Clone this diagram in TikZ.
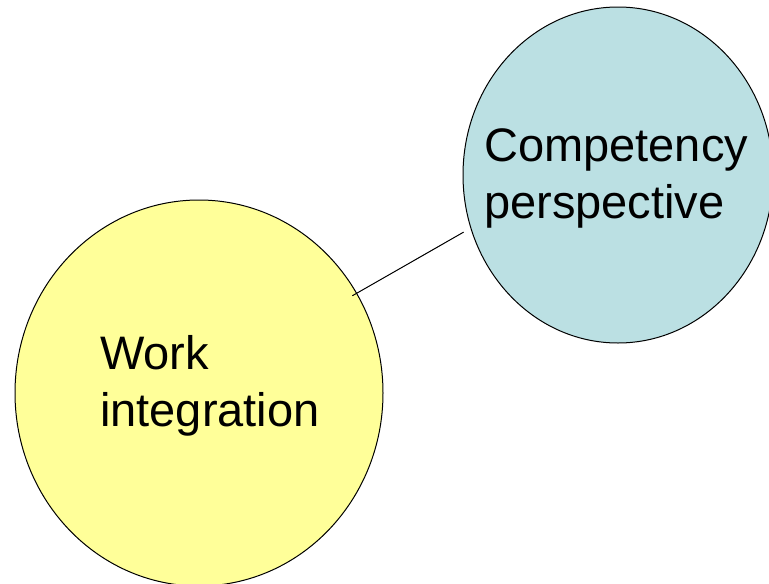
\documentclass[tikz,border=0pt]{standalone}
\usepackage{fontspec}
\setmainfont{Liberation Sans}
\usetikzlibrary{shapes.geometric}
\definecolor{workyellow}{RGB}{255,255,153}
\definecolor{compblue}{RGB}{187,224,227}
\tikzset{
  bubble/.style={ellipse,draw=black,line width=1pt,inner sep=0pt},
  bubbletext/.style={align=left,inner sep=0pt,font=\fontsize{47}{57}\selectfont}
}
\begin{document}
\begin{tikzpicture}[x=1pt,y=-1pt]
                        \useasboundingbox (0,0) rectangle (769,584);
                        \node[bubble,fill=workyellow,minimum width=368pt,minimum height=386pt] (work) at(199,393) {};
                        \node[bubble,fill=compblue,minimum width=310pt,minimum height=336pt] (comp) at(618,175) {};

                        \draw[line width=1pt] ([shift={(-3.5,4.6)}]work.33)--([shift={(-7,3.5)}]comp.200);

                        \node[bubbletext,anchor=base west] (worktext) at(100,426) {Work\\integration};
                        \node[bubbletext,anchor=base west] (comptext) at(484,218) {Competency\\perspective};
                    \end{tikzpicture}
\end{document}
